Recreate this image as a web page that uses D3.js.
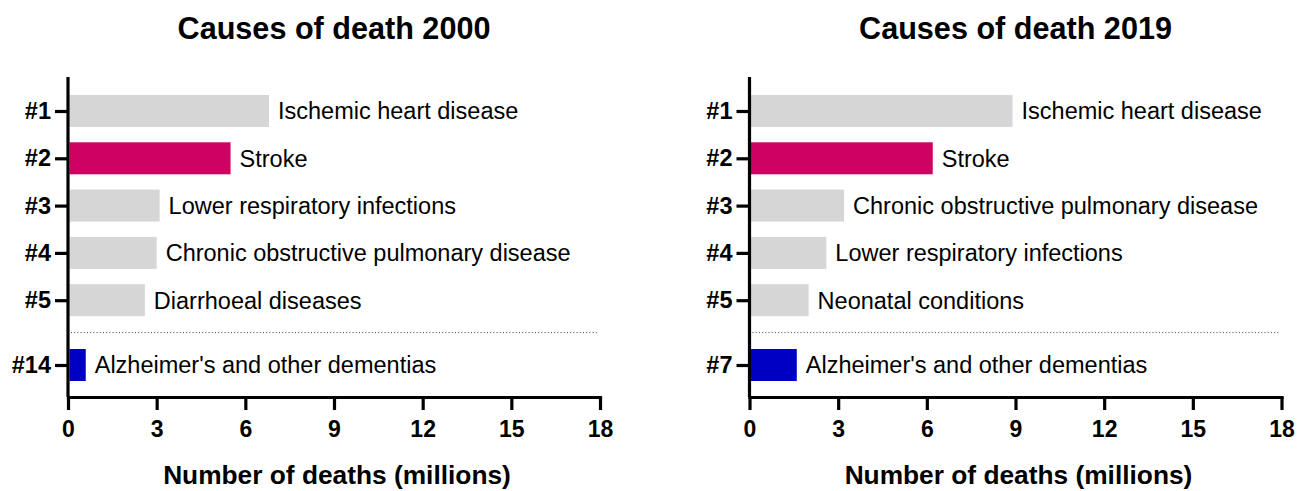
<!DOCTYPE html>
<html>
<head>
<meta charset="utf-8">
<script src="https://cdn.jsdelivr.net/npm/d3@7"></script>
<style>
  html, body { margin: 0; padding: 0; background: #fff; }
  svg { display: block; }
  text { font-family: Arial, "Liberation Sans", sans-serif; fill: #000; }
</style>
</head>
<body>
<svg id="chart" width="1303" height="491"></svg>
<script>
// ---- data ----
const titles = ["Causes of death 2000", "Causes of death 2019"];
const ranks2000 = ["#1", "#2", "#3", "#4", "#5", "#14"];
const causes2000 = ["Ischemic heart disease", "Stroke", "Lower respiratory infections",
  "Chronic obstructive pulmonary disease", "Diarrhoeal diseases", "Alzheimer's and other dementias"];
const deaths2000 = [6.8, 5.5, 3.1, 3.0, 2.6, 0.6];
const ranks2019 = ["#1", "#2", "#3", "#4", "#5", "#7"];
const causes2019 = ["Ischemic heart disease", "Stroke", "Chronic obstructive pulmonary disease",
  "Lower respiratory infections", "Neonatal conditions", "Alzheimer's and other dementias"];
const deaths2019 = [8.9, 6.2, 3.2, 2.6, 2.0, 1.6];
const xTicks = [0, 3, 6, 9, 12, 15, 18];
const xTitle = "Number of deaths (millions)";

const svg = d3.select("#chart");

function colorFor(cause) {
  if (cause === "Stroke") return "#cd0263";
  if (cause.startsWith("Alzheimer")) return "#0000c4";
  return "#d6d6d6";
}

function panel(x0, title, ranks, causes, deaths) {
  const g = svg.append("g");
  const x = d3.scaleLinear().domain([0, 18]).range([x0, x0 + 532]);
  // slot positions: last row separated from top five
  const slot = i => (i < 5 ? i : i + 0.37);
  const y = d3.scaleLinear().domain([0, 1]).range([111, 158.3]);
  const rows = causes.map((c, i) => ({ rank: ranks[i], cause: c, v: deaths[i], s: slot(i) }));
  const barH = 32;

  // title
  g.append("text")
    .attr("x", (x.range()[0] + x.range()[1]) / 2)
    .attr("y", 39)
    .attr("text-anchor", "middle")
    .style("font-size", "30.6px").style("font-weight", "bold")
    .text(title);

  // bars
  g.selectAll("rect.bar").data(rows).enter().append("rect")
    .attr("class", "bar")
    .attr("x", x(0) + 1.5)
    .attr("y", d => y(d.s) - barH / 2)
    .attr("width", d => x(d.v) - x(0) - 1.5)
    .attr("height", barH)
    .attr("fill", d => colorFor(d.cause));

  // labels
  g.selectAll("text.lab").data(rows).enter().append("text")
    .attr("class", "lab")
    .attr("x", d => x(d.v) + 9)
    .attr("y", d => y(d.s))
    .attr("dy", "0.36em")
    .style("font-size", "23.5px")
    .text(d => d.cause);

  // separator dotted line
  const sepY = y((4 + 5.37) / 2);
  g.append("line")
    .attr("x1", x(0) + 3).attr("x2", x(18) - 3)
    .attr("y1", sepY).attr("y2", sepY)
    .attr("stroke", "#444").attr("stroke-width", 1)
    .attr("stroke-dasharray", "1,2.2");

  // x axis
  const axisY = 397;
  const xa = g.append("g").attr("transform", `translate(0,${axisY})`)
    .call(d3.axisBottom(x).tickValues(xTicks).tickSize(13).tickSizeOuter(0).tickPadding(11).tickFormat(d3.format("d")));
  xa.select(".domain").attr("stroke", "#000").attr("stroke-width", 3.2).attr("stroke-linecap", "square");
  xa.selectAll(".tick line").attr("stroke", "#000").attr("stroke-width", 3.2);
  xa.selectAll(".tick text").style("font-size", "23px").style("font-weight", "bold")
    .style("font-family", "Arial, 'Liberation Sans', sans-serif").attr("fill", "#000");

  // y axis
  const ya = g.append("g").attr("transform", `translate(${x(0)},0)`)
    .call(d3.axisLeft(y).tickValues(rows.map(d => d.s)).tickSize(13).tickSizeOuter(0).tickPadding(4)
      .tickFormat((d, i) => rows[i].rank));
  ya.select(".domain").attr("d", `M0,77V${axisY}`)
    .attr("stroke", "#000").attr("stroke-width", 3.2);
  ya.selectAll(".tick line").attr("stroke", "#000").attr("stroke-width", 3.2);
  ya.selectAll(".tick text").style("font-size", "23.5px").style("font-weight", "bold")
    .style("font-family", "Arial, 'Liberation Sans', sans-serif").attr("fill", "#000");

  // x title
  g.append("text")
    .attr("x", (x.range()[0] + x.range()[1]) / 2 + 3)
    .attr("y", 484)
    .attr("text-anchor", "middle")
    .style("font-size", "26.3px").style("font-weight", "bold")
    .text(xTitle);
}

panel(68, titles[0], ranks2000, causes2000, deaths2000);
panel(749.5, titles[1], ranks2019, causes2019, deaths2019);
</script>
</body>
</html>
